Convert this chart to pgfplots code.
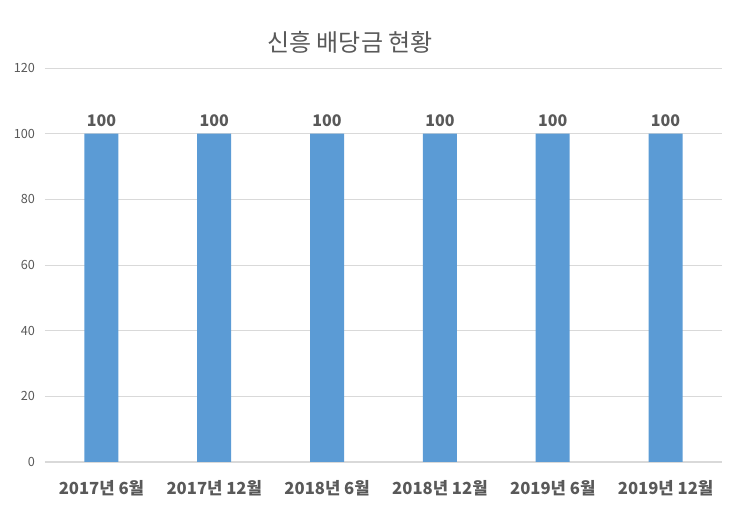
\documentclass[border=0pt]{standalone}
\usepackage{fontspec}
\setmainfont{Noto Sans CJK KR}
\usepackage{pgfplots}
\pgfplotsset{compat=1.18}
\definecolor{barblue}{HTML}{5B9BD5}
\definecolor{txtgray}{HTML}{595959}
\definecolor{gridgray}{HTML}{D9D9D9}
\begin{document}
\begin{tikzpicture}
% 1px = 0.75pt, page 740x516 px
\path[use as bounding box] (-33.75pt,-40.5pt) rectangle (521.25pt,346.5pt);
\begin{axis}[
    at={(0,0)}, anchor=south west,
    scale only axis,
    width=507.75pt, height=295.5pt,
    ybar, bar width=25.5pt,
    xmin=-0.5, xmax=5.5,
    ymin=0, ymax=120,
    ytick={0,20,...,120},
    xtick=data,
    xticklabels={2017년 6월, 2017년 12월, 2018년 6월, 2018년 12월, 2019년 6월, 2019년 12월},
    x tick label style={font=\fontsize{12.5}{15}\selectfont\bfseries, text=txtgray, yshift=-10pt},
    y tick label style={font=\fontsize{9.5}{11}\selectfont, text=txtgray, xshift=-4pt},
    /pgf/number format/assume math mode=true,
    major tick length=0pt,
    axis x line*=bottom,
    axis y line*=left,
    y axis line style={draw=none},
    x axis line style={gridgray, line width=0.9pt},
    ymajorgrids, grid style={gridgray, line width=0.6pt},
    nodes near coords,
    every node near coord/.append style={font=\fontsize{12}{14}\selectfont\bfseries, text=txtgray, yshift=2pt},
    clip=false,
]
\addplot[fill=barblue, draw=none] coordinates {
    (0,100) (1,100) (2,100) (3,100) (4,100) (5,100)
};
\node[font=\fontsize{18}{20}\selectfont, text=txtgray] at (rel axis cs:0.4505,1.066) {신흥 배당금 현황};
\end{axis}
\end{tikzpicture}
\end{document}
